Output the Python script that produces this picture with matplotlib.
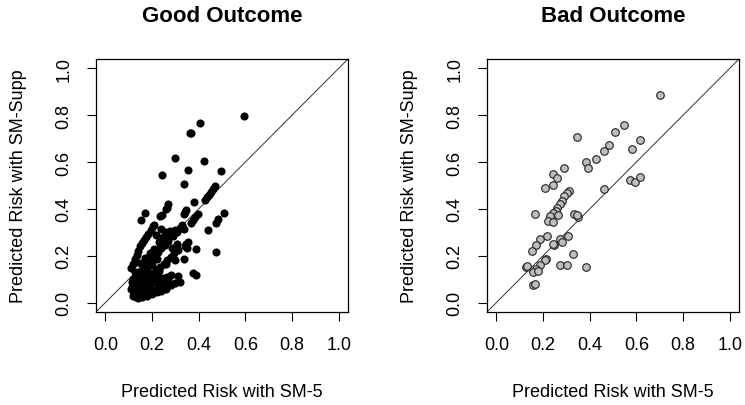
import matplotlib.pyplot as plt

plt.rcParams['font.family'] = ['Liberation Sans', 'DejaVu Sans']

# Good outcome: predicted risk with SM-5 (x) vs SM-Supp (y)
good_x = [0.594, 0.407, 0.367, 0.362, 0.297, 0.421, 0.356, 0.496, 0.241, 0.337,
          0.471, 0.462, 0.452, 0.443, 0.436, 0.425, 0.380, 0.270, 0.263, 0.258,
          0.346, 0.340, 0.336, 0.171, 0.510, 0.243, 0.234, 0.151, 0.395, 0.386,
          0.377, 0.365, 0.484, 0.473, 0.209, 0.240, 0.300, 0.337, 0.441,
          0.270, 0.277, 0.265, 0.258, 0.252, 0.245, 0.236, 0.226, 0.222,
          0.356, 0.346, 0.340, 0.350, 0.390, 0.474,
          0.337, 0.300, 0.377, 0.387, 0.311,
          0.110, 0.118, 0.126, 0.134, 0.142, 0.150, 0.158, 0.166, 0.175, 0.183, 0.195, 0.203,
          0.135, 0.150, 0.165, 0.180, 0.195, 0.210, 0.225, 0.240, 0.255, 0.270, 0.290, 0.305, 0.320, 0.330,
          0.160, 0.175, 0.190, 0.205, 0.220, 0.235, 0.250, 0.265, 0.280, 0.295, 0.310,
          0.170, 0.190, 0.210, 0.230, 0.250, 0.265, 0.280,
          0.120, 0.125, 0.130, 0.135, 0.140, 0.145, 0.150, 0.155, 0.160, 0.165,
          0.170, 0.175, 0.180, 0.185, 0.190, 0.200, 0.210, 0.220, 0.230, 0.240,
          0.250, 0.130, 0.120, 0.115, 0.140, 0.150, 0.160, 0.120, 0.130, 0.170,
          0.180, 0.200, 0.110, 0.145, 0.155, 0.130,
          0.120, 0.140, 0.160, 0.180, 0.200, 0.220, 0.240, 0.260, 0.280, 0.190,
          0.210, 0.230, 0.170, 0.150, 0.250, 0.270, 0.300, 0.320, 0.140, 0.160,
          0.180, 0.200, 0.220, 0.115, 0.125, 0.190, 0.210, 0.230, 0.245, 0.260,
          0.170, 0.150, 0.200, 0.230, 0.260, 0.290, 0.215, 0.285, 0.305]
good_y = [0.797, 0.766, 0.726, 0.722, 0.616, 0.606, 0.566, 0.560, 0.546, 0.506,
          0.496, 0.484, 0.472, 0.460, 0.450, 0.440, 0.431, 0.421, 0.403, 0.398,
          0.396, 0.386, 0.379, 0.383, 0.383, 0.376, 0.368, 0.353, 0.380, 0.366,
          0.352, 0.340, 0.355, 0.340, 0.333, 0.313, 0.308, 0.313, 0.308,
          0.295, 0.305, 0.285, 0.270, 0.262, 0.250, 0.238, 0.225, 0.212,
          0.260, 0.250, 0.240, 0.232, 0.229, 0.214,
          0.186, 0.183, 0.128, 0.118, 0.113,
          0.146, 0.165, 0.185, 0.205, 0.222, 0.240, 0.255, 0.268, 0.282, 0.295, 0.312, 0.325,
          0.118, 0.130, 0.150, 0.170, 0.185, 0.200, 0.215, 0.232, 0.245, 0.262, 0.285, 0.300, 0.318, 0.330,
          0.090, 0.098, 0.110, 0.125, 0.140, 0.150, 0.165, 0.180, 0.195, 0.210, 0.225,
          0.070, 0.078, 0.088, 0.096, 0.105, 0.110, 0.118,
          0.050, 0.040, 0.060, 0.030, 0.050, 0.070, 0.040, 0.060, 0.030, 0.050,
          0.040, 0.055, 0.030, 0.050, 0.045, 0.055, 0.050, 0.060, 0.065, 0.070,
          0.075, 0.085, 0.075, 0.065, 0.090, 0.100, 0.110, 0.100, 0.120, 0.130,
          0.140, 0.160, 0.060, 0.035, 0.025, 0.025,
          0.030, 0.020, 0.045, 0.060, 0.035, 0.045, 0.050, 0.060, 0.075, 0.090,
          0.100, 0.110, 0.085, 0.075, 0.090, 0.095, 0.085, 0.090, 0.130, 0.140,
          0.155, 0.175, 0.185, 0.090, 0.130, 0.210, 0.230, 0.260, 0.280, 0.300,
          0.190, 0.170, 0.105, 0.135, 0.165, 0.190, 0.290, 0.235, 0.250]

# Bad outcome
bad_x = [0.701, 0.547, 0.507, 0.347, 0.617, 0.481, 0.463, 0.581, 0.427, 0.383,
         0.393, 0.289, 0.241, 0.260, 0.243, 0.207, 0.571, 0.596, 0.617, 0.463,
         0.311, 0.303, 0.291, 0.283, 0.271, 0.260, 0.254, 0.243, 0.167, 0.231,
         0.264, 0.221, 0.243, 0.331, 0.351, 0.345, 0.187, 0.219, 0.271, 0.307,
         0.283, 0.246, 0.243, 0.171, 0.153, 0.327, 0.214, 0.207, 0.189, 0.171,
         0.157, 0.179, 0.127, 0.133, 0.271, 0.303, 0.386, 0.157, 0.167]
bad_y = [0.886, 0.757, 0.727, 0.707, 0.693, 0.671, 0.649, 0.657, 0.614, 0.599,
         0.575, 0.575, 0.549, 0.533, 0.504, 0.489, 0.525, 0.514, 0.538, 0.486,
         0.478, 0.469, 0.455, 0.432, 0.421, 0.404, 0.391, 0.381, 0.378, 0.368,
         0.373, 0.350, 0.344, 0.380, 0.366, 0.372, 0.273, 0.283, 0.273, 0.283,
         0.259, 0.245, 0.252, 0.245, 0.219, 0.209, 0.188, 0.182, 0.159, 0.142,
         0.131, 0.137, 0.150, 0.157, 0.162, 0.162, 0.154, 0.074, 0.080]

ticks = [0.0, 0.2, 0.4, 0.6, 0.8, 1.0]

fig = plt.figure(figsize=(7.45, 4.06), dpi=100)
ax1 = fig.add_axes([96 / 745, 93 / 406, 252 / 745, 253 / 406])
ax2 = fig.add_axes([487 / 745, 93 / 406, 252 / 745, 253 / 406])

ax1.scatter(good_x, good_y, s=34, color='black', linewidths=0, zorder=3)
ax2.scatter(bad_x, bad_y, s=30, facecolor='#bebebe', edgecolor='#222222',
            linewidths=0.8, zorder=3)

for ax, title in [(ax1, 'Good Outcome'), (ax2, 'Bad Outcome')]:
    ax.plot([-0.04, 1.04], [-0.04, 1.04], color='#333333', lw=0.7, zorder=2)
    ax.set_xlim(-0.04, 1.04)
    ax.set_ylim(-0.04, 1.04)
    ax.set_xticks(ticks)
    ax.set_yticks(ticks)
    ax.set_xticklabels([f'{t:.1f}' for t in ticks])
    ax.set_yticklabels([f'{t:.1f}' for t in ticks])
    ax.tick_params(direction='out', length=6.5, width=0.8, pad=10.5,
                   labelsize=13, colors='black')
    ax.tick_params(axis='y', labelrotation=90)
    for lab in ax.get_yticklabels():
        lab.set_va('center')
    for sp in ax.spines.values():
        sp.set_linewidth(0.9)
    ax.set_title(title, fontsize=16, fontweight='bold', pad=0, y=1.0)
    ax.title.set_position((0.5, 1 + (60 - 16) / 253))
    ax.title.set_va('center')
    ax.set_xlabel('Predicted Risk with SM-5', fontsize=13)
    ax.set_ylabel('Predicted Risk with SM-Supp', fontsize=13)
    ax.xaxis.set_label_coords(0.5, -(384 - 313) / 253)
    ax.yaxis.set_label_coords(-(96 - 27) / 252, 0.5)

fig.savefig('out.png', dpi=100)
